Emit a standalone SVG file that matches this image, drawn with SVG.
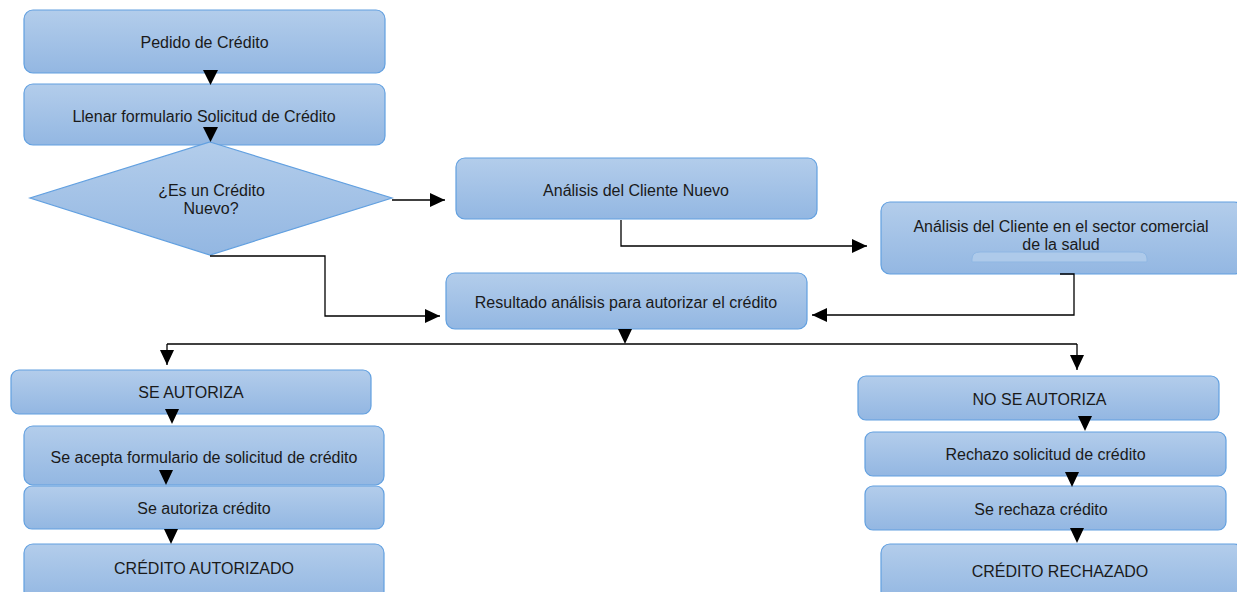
<svg xmlns="http://www.w3.org/2000/svg" width="1237" height="592" viewBox="0 0 1237 592">
  <defs>
    <linearGradient id="fillBlue" x1="0" y1="0" x2="0" y2="1">
      <stop offset="0" stop-color="#b3cdeb"/>
      <stop offset="1" stop-color="#93b7e2"/>
    </linearGradient>
    <marker id="arrow" viewBox="0 0 15 14" refX="15" refY="7" markerWidth="15" markerHeight="14" markerUnits="userSpaceOnUse" orient="auto">
      <path d="M0,0 L15,7 L0,14 Z" fill="#000"/>
    </marker>
  </defs>
  <style>
    .box { fill: url(#fillBlue); stroke: #62a0e0; stroke-width: 1.2; }
    .lbl { font-family: "Liberation Sans", Arial, sans-serif; font-size: 16px; fill: #1a1a1a; text-anchor: middle; }
    .wire { fill: none; stroke: #000; stroke-width: 1.3; }
    .tri { fill: #000; }
  </style>
  <rect width="1237" height="592" fill="#ffffff"/>

  <!-- left column: request -->
  <g id="pedido">
    <rect class="box" x="24" y="10" width="361" height="63" rx="9"/>
    <text class="lbl" x="204.5" y="48">Pedido de Crédito</text>
  </g>
  <g id="llenar">
    <rect class="box" x="24" y="84" width="361" height="61" rx="9"/>
    <text class="lbl" x="204" y="122">Llenar formulario Solicitud de Crédito</text>
  </g>
  <g id="decision">
    <polygon class="box" points="210,142 392,198 210,255 30,198"/>
    <text class="lbl" x="211.5" y="196">¿Es un Crédito</text>
    <text class="lbl" x="211" y="214">Nuevo?</text>
  </g>

  <!-- analysis -->
  <g id="analisis-nuevo">
    <rect class="box" x="456" y="158" width="361" height="61" rx="9"/>
    <text class="lbl" x="636" y="196">Análisis del Cliente Nuevo</text>
  </g>
  <g id="analisis-sector">
    <rect class="box" x="881" y="202" width="362" height="72" rx="9"/>
    <path d="M972,262 L972,259 Q972,252 980,252 L1139,252 Q1147,252 1147,259 L1147,262 Z" fill="#aecaea" stroke="#8fb7e3" stroke-width="1"/>
    <text class="lbl" x="1061" y="232">Análisis del Cliente en el sector comercial</text>
    <text class="lbl" x="1061" y="250">de la salud</text>
  </g>
  <g id="resultado">
    <rect class="box" x="446" y="273" width="361" height="56" rx="9"/>
    <text class="lbl" x="626" y="308">Resultado análisis para autorizar el crédito</text>
  </g>

  <!-- authorised branch -->
  <g id="se-autoriza">
    <rect class="box" x="11" y="370" width="360" height="44" rx="8"/>
    <text class="lbl" x="191" y="398">SE AUTORIZA</text>
  </g>
  <g id="se-acepta">
    <rect class="box" x="24" y="426" width="360" height="59" rx="9"/>
    <text class="lbl" x="204" y="463">Se acepta formulario de solicitud de crédito</text>
  </g>
  <g id="se-autoriza-credito">
    <rect class="box" x="24" y="486" width="360" height="43" rx="8"/>
    <text class="lbl" x="204" y="514">Se autoriza crédito</text>
  </g>
  <g id="credito-autorizado">
    <rect class="box" x="24" y="544" width="360" height="56" rx="9"/>
    <text class="lbl" x="204" y="574">CRÉDITO AUTORIZADO</text>
  </g>

  <!-- rejected branch -->
  <g id="no-se-autoriza">
    <rect class="box" x="858" y="376" width="361" height="44" rx="8"/>
    <text class="lbl" x="1039.5" y="405">NO SE AUTORIZA</text>
  </g>
  <g id="rechazo-solicitud">
    <rect class="box" x="865" y="432" width="361" height="44" rx="8"/>
    <text class="lbl" x="1045.5" y="460">Rechazo solicitud de crédito</text>
  </g>
  <g id="se-rechaza">
    <rect class="box" x="865" y="486" width="361" height="44" rx="8"/>
    <text class="lbl" x="1041" y="515">Se rechaza crédito</text>
  </g>
  <g id="credito-rechazado">
    <rect class="box" x="881" y="544" width="362" height="56" rx="9"/>
    <text class="lbl" x="1060" y="577">CRÉDITO RECHAZADO</text>
  </g>

  <!-- connectors -->
  <g id="connectors">
    <polyline class="wire" points="392,200 445,200" marker-end="url(#arrow)"/>
    <polyline class="wire" points="210,256 325,256 325,316 440,316" marker-end="url(#arrow)"/>
    <polyline class="wire" points="621,220 621,246 867,246" marker-end="url(#arrow)"/>
    <polyline class="wire" points="1060,274 1074,274 1074,315 812,315" marker-end="url(#arrow)"/>
    <polyline class="wire" points="167,344 1077,344"/>
    <polyline class="wire" points="167,344 167,365" marker-end="url(#arrow)"/>
    <polyline class="wire" points="1077,344 1077,370" marker-end="url(#arrow)"/>

    <!-- stacked step arrowheads -->
    <polygon class="tri" points="203,70 218,70 210.5,85"/>
    <polygon class="tri" points="203,127 218,127 210.5,142"/>
    <polygon class="tri" points="618,329 632,329 625,344"/>
    <polygon class="tri" points="165,409 179,409 172,424"/>
    <polygon class="tri" points="159,470 173,470 166,485"/>
    <polygon class="tri" points="164,529 178,529 171,544"/>
    <polygon class="tri" points="1078,416 1092,416 1085,431"/>
    <polygon class="tri" points="1065,472 1079,472 1072,487"/>
    <polygon class="tri" points="1070,528 1084,528 1077,543"/>
  </g>
</svg>
